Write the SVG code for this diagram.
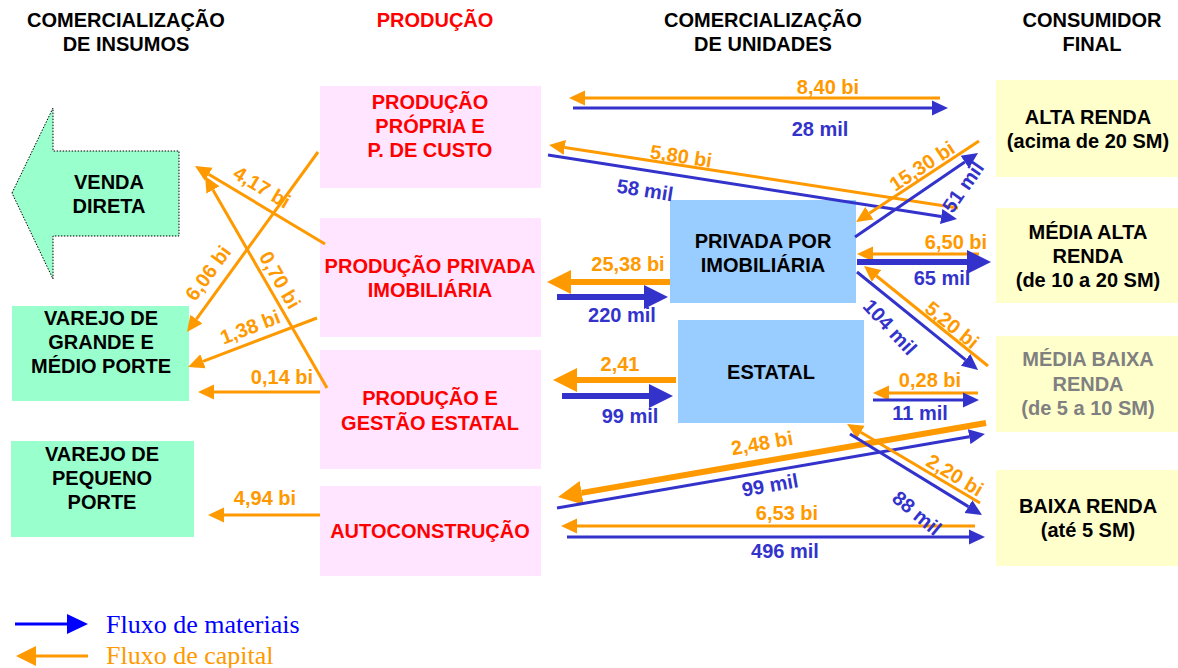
<svg xmlns="http://www.w3.org/2000/svg" width="1178" height="668" viewBox="0 0 1178 668">
<style>
text{font-family:"Liberation Sans",Arial,sans-serif;font-weight:bold;font-size:20px;text-anchor:middle}
.hd{fill:#000}
.red{fill:#FF0000}
.blk{fill:#000}
.gry{fill:#808080}
.lo{fill:#FF9900}
.lb{fill:#3333CC}
.pink{fill:#FFE5FF}
.grn{fill:#99FFCC}
.blu{fill:#99CCFF}
.yel{fill:#FFFFCC}
.o{stroke:#FF9900;stroke-width:3;fill:none;marker-end:url(#mo)}
.b{stroke:#3333CC;stroke-width:3;fill:none;marker-end:url(#mb)}
.on{stroke:#FF9900;stroke-width:3;fill:none}
.bn{stroke:#3333CC;stroke-width:3;fill:none}
.O{stroke:#FF9900;stroke-width:6;fill:none;marker-end:url(#mO)}
.B{stroke:#3333CC;stroke-width:6;fill:none;marker-end:url(#mB)}
.leg{font-family:"Liberation Serif","Times New Roman",serif;font-weight:normal;font-size:26px;text-anchor:start}
</style>
<defs>
<marker id="mo" markerUnits="userSpaceOnUse" markerWidth="16" markerHeight="16" refX="0" refY="8" orient="auto"><path d="M0,0.5 L16,8 L0,15.5 z" fill="#FF9900"/></marker>
<marker id="mb" markerUnits="userSpaceOnUse" markerWidth="16" markerHeight="16" refX="0" refY="8" orient="auto"><path d="M0,0.5 L16,8 L0,15.5 z" fill="#3333CC"/></marker>
<marker id="mO" markerUnits="userSpaceOnUse" markerWidth="24" markerHeight="24" refX="0" refY="12" orient="auto"><path d="M0,0 L24,12 L0,24 z" fill="#FF9900"/></marker>
<marker id="mB" markerUnits="userSpaceOnUse" markerWidth="24" markerHeight="24" refX="0" refY="12" orient="auto"><path d="M0,0 L24,12 L0,24 z" fill="#3333CC"/></marker>
</defs>
<rect width="1178" height="668" fill="#fff"/>

<g id="headers">
<text x="126" y="27" class="hd">COMERCIALIZAÇÃO</text>
<text x="126" y="51" class="hd">DE INSUMOS</text>
<text x="435" y="27" class="red">PRODUÇÃO</text>
<text x="763" y="27" class="hd">COMERCIALIZAÇÃO</text>
<text x="763" y="51" class="hd">DE UNIDADES</text>
<text x="1092" y="27" class="hd">CONSUMIDOR</text>
<text x="1092" y="51" class="hd">FINAL</text>
</g>

<g id="venda-direta">
<polygon points="12,193 53,108 53,151 179,151 179,236 53,236 53,279" class="grn" stroke="#000" stroke-width="1" stroke-dasharray="1.5,1.5"/>
<text x="109" y="189" class="blk">VENDA</text>
<text x="109" y="213" class="blk">DIRETA</text>
</g>
<g id="varejo-grande">
<rect x="12" y="306" width="177" height="95" class="grn"/>
<text x="101" y="325" class="blk">VAREJO DE</text>
<text x="101" y="349" class="blk">GRANDE E</text>
<text x="101" y="373" class="blk">MÉDIO PORTE</text>
</g>
<g id="varejo-pequeno">
<rect x="11" y="441" width="183" height="96" class="grn"/>
<text x="102" y="461" class="blk">VAREJO DE</text>
<text x="102" y="485" class="blk">PEQUENO</text>
<text x="102" y="509" class="blk">PORTE</text>
</g>

<g id="producao-propria">
<rect x="320" y="86" width="221" height="102" class="pink"/>
<text x="430" y="109" class="red">PRODUÇÃO</text>
<text x="430" y="133" class="red">PRÓPRIA E</text>
<text x="430" y="157" class="red">P. DE CUSTO</text>
</g>
<g id="producao-privada">
<rect x="320" y="218" width="221" height="119" class="pink"/>
<text x="430" y="273" class="red">PRODUÇÃO PRIVADA</text>
<text x="430" y="297" class="red">IMOBILIÁRIA</text>
</g>
<g id="producao-estatal">
<rect x="320" y="350" width="221" height="119" class="pink"/>
<text x="430" y="405" class="red">PRODUÇÃO E</text>
<text x="430" y="430" class="red">GESTÃO ESTATAL</text>
</g>
<g id="autoconstrucao">
<rect x="320" y="486" width="221" height="90" class="pink"/>
<text x="430" y="538" class="red">AUTOCONSTRUÇÃO</text>
</g>

<g id="privada-imobiliaria">
<rect x="670" y="200" width="186" height="103" class="blu"/>
<text x="763" y="248" class="blk">PRIVADA POR</text>
<text x="763" y="272" class="blk">IMOBILIÁRIA</text>
</g>
<g id="estatal">
<rect x="678" y="320" width="186" height="103" class="blu"/>
<text x="771" y="379" class="blk">ESTATAL</text>
</g>

<g id="alta-renda">
<rect x="996" y="80" width="182" height="97" class="yel"/>
<text x="1088" y="124" class="blk">ALTA RENDA</text>
<text x="1088" y="148" class="blk">(acima de 20 SM)</text>
</g>
<g id="media-alta">
<rect x="996" y="208" width="182" height="95" class="yel"/>
<text x="1088" y="239" class="blk">MÉDIA ALTA</text>
<text x="1088" y="263" class="blk">RENDA</text>
<text x="1088" y="287" class="blk">(de 10 a 20 SM)</text>
</g>
<g id="media-baixa">
<rect x="996" y="336" width="182" height="96" class="yel"/>
<text x="1088" y="366" class="gry">MÉDIA BAIXA</text>
<text x="1088" y="391" class="gry">RENDA</text>
<text x="1088" y="415" class="gry">(de 5 a 10 SM)</text>
</g>
<g id="baixa-renda">
<rect x="996" y="470" width="182" height="96" class="yel"/>
<text x="1088" y="513" class="blk">BAIXA RENDA</text>
<text x="1088" y="537" class="blk">(até 5 SM)</text>
</g>

<g id="connectors">
<line x1="940" y1="98" x2="585" y2="98" class="o"/>
<line x1="573" y1="108" x2="932" y2="108" class="b"/>
<line x1="958" y1="208" x2="564.8" y2="147.4" class="o"/>
<line x1="548" y1="155" x2="941.2" y2="216.5" class="b"/>
<line x1="979" y1="141" x2="869.4" y2="213.2" class="o"/>
<line x1="855" y1="237" x2="964.8" y2="162" class="b"/>
<line x1="979" y1="254" x2="873" y2="254" class="o"/>
<line x1="857" y1="262" x2="967" y2="262" class="B"/>
<line x1="988" y1="366" x2="876.5" y2="276" class="o"/>
<line x1="857" y1="272" x2="965.6" y2="359.9" class="b"/>
<line x1="978" y1="393" x2="889" y2="393" class="o"/>
<line x1="873" y1="400" x2="963" y2="400" class="b"/>
<line x1="986" y1="423" x2="581.7" y2="492.9" class="O"/>
<line x1="557" y1="508" x2="969.2" y2="436.7" class="b"/>
<line x1="980" y1="503" x2="860.8" y2="432.2" class="o"/>
<line x1="850" y1="434" x2="968.4" y2="506.6" class="b"/>
<line x1="975" y1="526" x2="577" y2="526" class="o"/>
<line x1="567" y1="537" x2="969" y2="537" class="b"/>
<line x1="670" y1="282" x2="571" y2="282" class="O"/>
<line x1="557" y1="297" x2="644" y2="297" class="B"/>
<line x1="676" y1="380" x2="577" y2="380" class="O"/>
<line x1="562" y1="396" x2="649" y2="396" class="B"/>
<line x1="325" y1="244" x2="208.7" y2="174.2" class="o"/>
<line x1="327" y1="388" x2="213" y2="189.9" class="o"/>
<line x1="318" y1="152" x2="196.4" y2="319.1" class="o"/>
<line x1="317" y1="318" x2="203" y2="361.3" class="o"/>
<line x1="320" y1="392" x2="214" y2="392" class="o"/>
<line x1="320" y1="515" x2="224" y2="515" class="o"/>
</g>

<g id="labels">
<text x="828" y="94" class="lo">8,40 bi</text>
<text x="820" y="136" class="lb">28 mil</text>
<text transform="translate(681,156) rotate(8.8)" y="7" class="lo">5,80 bi</text>
<text transform="translate(645,190) rotate(9)" y="7" class="lb">58 mil</text>
<text transform="translate(922,166) rotate(-33.4)" y="7" class="lo">15,30 bi</text>
<text transform="translate(963,187) rotate(-55)" y="7" class="lb">51 mil</text>
<text x="956" y="249" class="lo">6,50 bi</text>
<text x="942" y="285" class="lb">65 mil</text>
<text transform="translate(952,325) rotate(39)" y="7" class="lo">5,20 bi</text>
<text transform="translate(890,327) rotate(47)" y="7" class="lb">104 mil</text>
<text x="930" y="387" class="lo">0,28 bi</text>
<text x="920" y="420" class="lb">11 mil</text>
<text transform="translate(762,443) rotate(-10)" y="7" class="lo">2,48 bi</text>
<text transform="translate(770,485) rotate(-10)" y="7" class="lb">99 mil</text>
<text transform="translate(955,475) rotate(31)" y="7" class="lo">2,20 bi</text>
<text transform="translate(917,513) rotate(40)" y="7" class="lb">88 mil</text>
<text x="787" y="520" class="lo">6,53 bi</text>
<text x="785" y="558" class="lb">496 mil</text>
<text x="628" y="271" class="lo">25,38 bi</text>
<text x="622" y="322" class="lb">220 mil</text>
<text x="620" y="371" class="lo">2,41</text>
<text x="630" y="423" class="lb">99 mil</text>
<text transform="translate(262,187) rotate(31)" y="7" class="lo">4,17 bi</text>
<text transform="translate(280,280) rotate(60)" y="7" class="lo">0,70 bi</text>
<text transform="translate(208,273) rotate(-54)" y="7" class="lo">6,06 bi</text>
<text transform="translate(250,327) rotate(-21)" y="7" class="lo">1,38 bi</text>
<text x="282" y="384" class="lo">0,14 bi</text>
<text x="265" y="505" class="lo">4,94 bi</text>
</g>

<g id="legend">
<line x1="15" y1="624" x2="68" y2="624" stroke="#0000FF" stroke-width="3"/>
<path d="M67,614 L88,624 L67,634 z" fill="#0000FF"/>
<text x="106" y="633" class="leg" fill="#0000FF">Fluxo de materiais</text>
<line x1="34" y1="656" x2="88" y2="656" stroke="#FF9900" stroke-width="3"/>
<path d="M36,646 L16,656 L36,666 z" fill="#FF9900"/>
<text x="106" y="664" class="leg" fill="#FF9900">Fluxo de capital</text>
</g>
</svg>
